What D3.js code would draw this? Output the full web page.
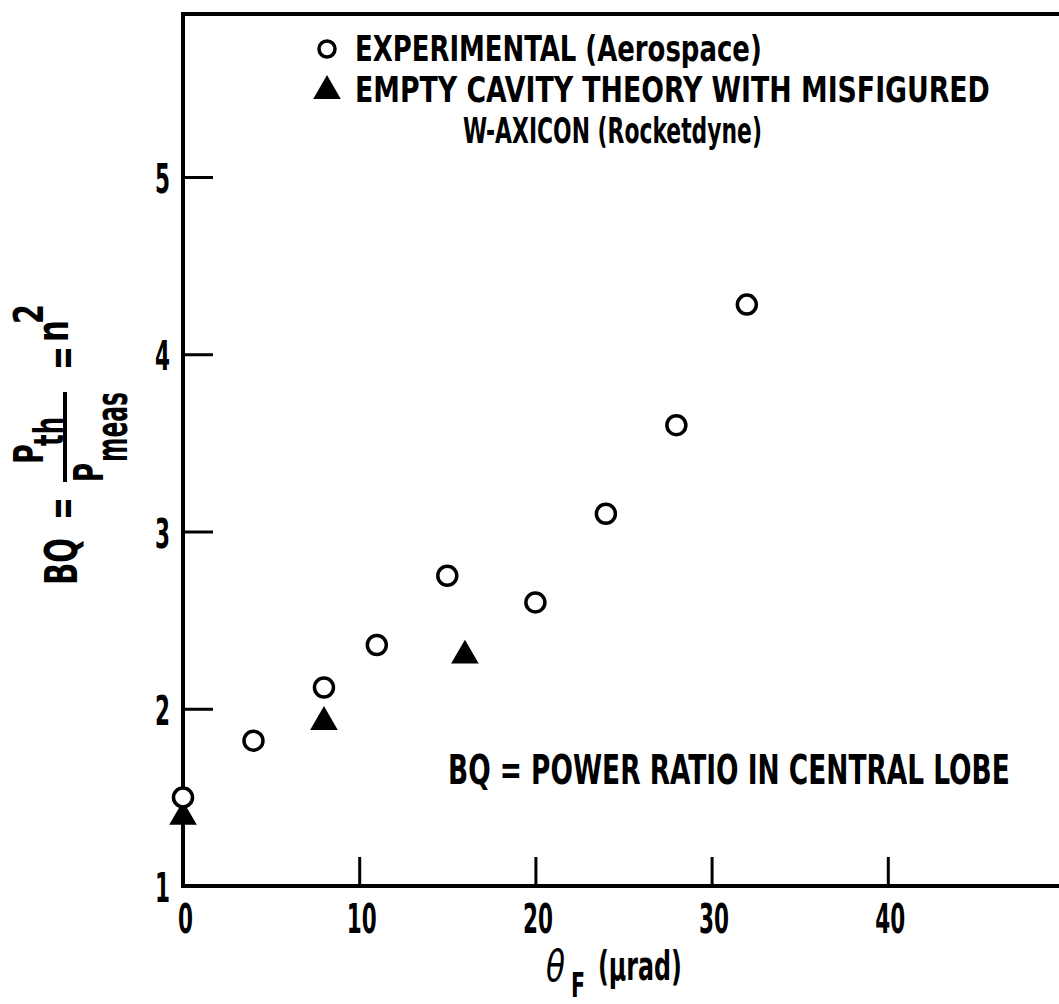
<!DOCTYPE html>
<html>
<head>
<meta charset="utf-8">
<script src="https://cdn.jsdelivr.net/npm/d3@7"></script>
<style>
  body { margin: 0; background: #fff; }
  svg { display: block; }
  text { font-family: "Liberation Sans Narrow", "DejaVu Sans Condensed", "DejaVu Sans", sans-serif; font-stretch: condensed; font-weight: bold; fill: #000; }
</style>
</head>
<body>
<svg id="chart"></svg>
<script>
// experimental (Aerospace), open circles
const expTheta = [0, 4, 8, 11, 15, 20, 24, 28, 32];
const expBQ = [1.5, 1.82, 2.12, 2.36, 2.75, 2.6, 3.1, 3.6, 4.28];
// empty cavity theory with misfigured W-axicon (Rocketdyne), filled triangles
const thTheta = [0, 8, 16];
const thBQ = [1.39, 1.925, 2.3];

const xTicks = [0, 10, 20, 30, 40];
const yTicks = [1, 2, 3, 4, 5];

const W = 1059, H = 1004;
const svg = d3.select('#chart').attr('width', W).attr('height', H);

const x = d3.scaleLinear().domain([0, 50]).range([183, 1064]);
const y = d3.scaleLinear().domain([1, 5]).range([886, 177]);

// squeeze a text to a given width (the printed font is very condensed)
function fit(sel, target) {
  sel.each(function (d) {
    const w = this.getComputedTextLength();
    const t = typeof target === 'function' ? target(d) : target;
    const x0 = +this.getAttribute('x') || 0, y0 = +this.getAttribute('y') || 0;
    d3.select(this).attr('x', 0).attr('y', 0)
      .attr('transform', `translate(${x0},${y0}) scale(${t / w},1)`);
  });
}

// frame: left, bottom, top (no right side, it runs off the page)
const frame = svg.append('g').attr('stroke', '#000').attr('stroke-width', 4).attr('fill', 'none');
frame.append('path').attr('d', `M${x(0)},14V${y(1)}H${W}`);
frame.append('path').attr('d', `M${x(0) - 2},14H${W}`);

// axes with inward ticks
const yAxis = svg.append('g')
  .attr('transform', `translate(${x(0)},0)`)
  .call(d3.axisLeft(y).tickValues(yTicks).tickSize(-30).tickSizeOuter(0).tickPadding(13).tickFormat(d3.format('d')));
const xAxis = svg.append('g')
  .attr('transform', `translate(0,${y(1)})`)
  .call(d3.axisBottom(x).tickValues(xTicks).tickSize(-29).tickSizeOuter(0).tickPadding(18).tickFormat(d3.format('d')));

[yAxis, xAxis].forEach(a => {
  a.select('.domain').remove();
  a.selectAll('.tick line').attr('stroke', '#000').attr('stroke-width', 3);
  a.selectAll('.tick text')
    .style('font-size', '41px')
    .style('font-family', null)
    .attr('fill', '#000')
    .attr('textLength', d => String(d).length * 15)
    .attr('lengthAdjust', 'spacingAndGlyphs');
});
yAxis.selectAll('.tick').filter(d => d === 1).select('line').remove();
xAxis.selectAll('.tick').filter(d => d === 0).select('line').remove();
xAxis.selectAll('.tick text').attr('dx', 2);
yAxis.selectAll('.tick text').attr('dy', '0.38em');

// data marks
const tri = d3.symbol().type(d3.symbolTriangle).size(330);

svg.append('g').selectAll('path')
  .data(thTheta.map((t, i) => [t, thBQ[i]]))
  .join('path')
  .attr('d', tri)
  .attr('transform', d => `translate(${x(d[0])},${y(d[1])})`)
  .attr('fill', '#000');

svg.append('g').selectAll('circle')
  .data(expTheta.map((t, i) => [t, expBQ[i]]))
  .join('circle')
  .attr('cx', d => x(d[0]))
  .attr('cy', d => y(d[1]))
  .attr('r', 9.5)
  .attr('fill', '#fff')
  .attr('stroke', '#000')
  .attr('stroke-width', 3.5);

// legend
const leg = svg.append('g');
leg.append('circle').attr('cx', 327).attr('cy', 49).attr('r', 8)
  .attr('fill', 'none').attr('stroke', '#000').attr('stroke-width', 3.5);
leg.append('path').attr('d', tri).attr('transform', 'translate(327,91)');
const legLines = [
  { t: 'EXPERIMENTAL (Aerospace)', x0: 355, y0: 61, len: 407 },
  { t: 'EMPTY CAVITY THEORY WITH MISFIGURED', x0: 355, y0: 102, len: 635 },
  { t: 'W-AXICON (Rocketdyne)', x0: 463, y0: 143, len: 299 }
];
leg.selectAll('text').data(legLines).join('text')
  .attr('x', d => d.x0).attr('y', d => d.y0)
  .style('font-size', '35px')
  .text(d => d.t)
  .call(fit, d => d.len);

// note
svg.append('text')
  .attr('x', 448).attr('y', 784)
  .style('font-size', '40px')
  .text('BQ = POWER RATIO IN CENTRAL LOBE')
  .call(fit, 562);

// x axis title: theta_F (mu rad)
const xt = svg.append('g');
xt.append('text').attr('x', 546).attr('y', 981).style('font-size', '42px').style('font-style', 'italic').style('font-weight', 'normal').style('font-family', 'DejaVu Sans, sans-serif').text('θ').call(fit, 19);
xt.append('text').attr('x', 571).attr('y', 997).style('font-size', '33px').text('F').call(fit, 14);
xt.append('text').attr('x', 598).attr('y', 980).style('font-size', '40px').text('(μrad)').call(fit, 84);

// y axis title: BQ = P_th / P_meas = n^2 (rotated)
const yt = svg.append('g').attr('transform', 'translate(77,590) rotate(-90)');
const yParts = [
  { t: 'BQ', x0: 5, y0: 0, len: 47, fs: 44 },
  { t: '=', x0: 70, y0: 0, len: 23, fs: 44 },
  { t: 'P', x0: 126, y0: -34, len: 20, fs: 41 },
  { t: 'th', x0: 144, y0: -14, len: 29, fs: 40 },
  { t: 'P', x0: 108, y0: 26, len: 19, fs: 40 },
  { t: 'meas', x0: 128, y0: 50, len: 70, fs: 44 },
  { t: '=', x0: 220, y0: 0, len: 24, fs: 44 },
  { t: 'n', x0: 248, y0: -9, len: 22, fs: 44 },
  { t: '2', x0: 266, y0: -34, len: 20, fs: 40 }
];
yt.selectAll('text').data(yParts).join('text')
  .attr('x', d => d.x0).attr('y', d => d.y0)
  .style('font-size', d => d.fs + 'px')
  .text(d => d.t)
  .call(fit, d => d.len);
yt.append('line').attr('x1', 108).attr('x2', 198).attr('y1', -12).attr('y2', -12)
  .attr('stroke', '#000').attr('stroke-width', 4);
</script>
</body>
</html>
